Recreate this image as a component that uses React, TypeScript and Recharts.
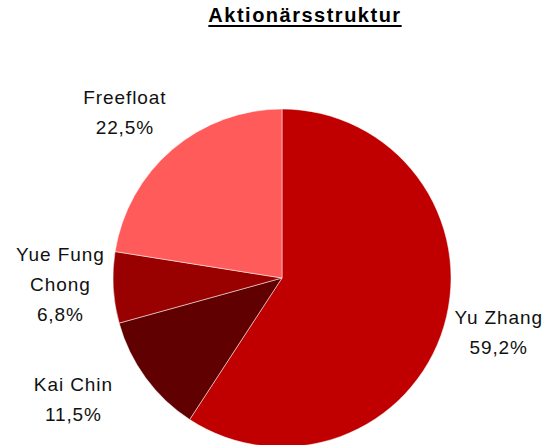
import { PieChart, Pie, Cell } from "recharts";

// Shareholder structure (percent)
const holders = ["Yu Zhang", "Kai Chin", "Yue Fung\nChong", "Freefloat"];
const shares = [59.2, 11.5, 6.8, 22.5];
const colors = ["#c00000", "#600000", "#990000", "#ff5b5b"];

const data = holders.map((name, i) => ({ name, value: shares[i] }));

const RAD = Math.PI / 180;
const LINE_H = 30;
// small per-label nudges, like the spreadsheet's own label placement
const NUDGE: [number, number][] = [
  [1, -10],
  [-27, -12],
  [3, -7],
  [-11, 5],
];

function renderLabel(props: any) {
  const { cx, cy, midAngle, outerRadius, index } = props;
  const r = outerRadius + 56;
  const x = cx + r * Math.cos(-midAngle * RAD) + NUDGE[index][0];
  const y = cy + r * Math.sin(-midAngle * RAD) + NUDGE[index][1];
  const lines = [...holders[index].split("\n"), `${shares[index].toFixed(1).replace(".", ",")}%`];
  const top = y - ((lines.length - 1) * LINE_H) / 2;
  return (
    <text
      x={x}
      y={top}
      textAnchor="middle"
      dominantBaseline="central"
      fontFamily="'Liberation Sans', Arial, sans-serif"
      fontSize={19}
      letterSpacing={0.9}
      fill="#111"
    >
      {lines.map((l, i) => (
        <tspan key={i} x={x} dy={i === 0 ? 0 : LINE_H}>
          {l}
        </tspan>
      ))}
    </text>
  );
}

export default function App() {
  return (
    <div style={{ position: "absolute", left: 0, top: 0, width: 549, height: 445, background: "#fff", overflow: "hidden" }}>
      <div
        style={{
          position: "absolute",
          left: 0,
          width: 610,
          top: 4,
          textAlign: "center",
          fontFamily: "'Liberation Sans', Arial, sans-serif",
          fontWeight: 700,
          fontSize: 20,
          letterSpacing: 1.5,
          textDecoration: "underline",
          textDecorationThickness: 2,
          textUnderlineOffset: 3,
          color: "#000",
        }}
      >
        Aktionärsstruktur
      </div>
      <PieChart width={549} height={445} style={{ position: "absolute", left: 0, top: 0 }}>
        <Pie
          data={data}
          dataKey="value"
          nameKey="name"
          cx={277}
          cy={273}
          outerRadius={169}
          startAngle={90}
          endAngle={-270}
          stroke="#ffffff"
          strokeWidth={0.5}
          label={renderLabel}
          labelLine={false}
          isAnimationActive={false}
        >
          {data.map((d, i) => (
            <Cell key={d.name} fill={colors[i]} />
          ))}
        </Pie>
      </PieChart>
    </div>
  );
}
